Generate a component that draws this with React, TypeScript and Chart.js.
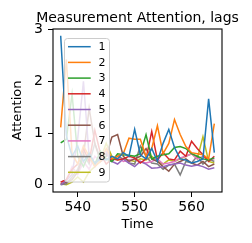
import { useEffect, useRef } from "react";
import { Chart, registerables } from "chart.js";

Chart.register(...registerables);

const times = [537, 538, 539, 540, 541, 542, 543, 544, 545, 546, 547, 548, 549, 550, 551, 552, 553, 554, 555, 556, 557, 558, 559, 560, 561, 562, 563, 564];
const lagLabels = ["1", "2", "3", "4", "5", "6", "7", "8", "9"];
const lag1 = [2.88, 0.95, 0.55, 0.75, 0.45, 0.6, 0.42, 0.5, 0.48, 0.55, 0.5, 0.62, 0.55, 1.07, 0.58, 0.5, 0.7, 0.45, 0.8, 1.07, 0.72, 0.5, 0.48, 0.42, 0.45, 0.5, 1.66, 0.62];
const lag2 = [1.11, 2.42, 0.6, 0.4, 0.75, 0.55, 0.35, 0.45, 0.7, 0.5, 0.55, 0.6, 0.9, 0.88, 0.88, 0.55, 0.7, 1.14, 0.6, 0.8, 1.26, 0.97, 0.74, 0.62, 0.6, 0.58, 0.5, 1.18];
const lag3 = [0.81, 0.88, 1.75, 0.55, 0.35, 0.6, 0.4, 0.65, 0.5, 0.45, 0.6, 0.58, 0.57, 0.55, 0.6, 0.97, 0.5, 0.55, 0.58, 0.6, 0.72, 0.74, 0.7, 0.6, 0.55, 0.5, 0.48, 0.52];
const lag4 = [0.05, 0.1, 0.3, 0.4, 0.7, 0.45, 1.05, 0.6, 0.4, 0.5, 0.48, 0.5, 0.55, 0.52, 0.42, 0.5, 1.03, 0.48, 0.62, 0.5, 0.48, 0.65, 0.55, 0.84, 0.7, 0.58, 0.45, 0.55];
const lag5 = [0.0, 0.08, 0.2, 0.9, 2.0, 0.55, 0.35, 0.6, 0.65, 0.45, 0.4, 0.5, 0.42, 0.35, 0.45, 0.4, 0.32, 0.33, 0.35, 0.38, 0.4, 0.42, 0.38, 0.36, 0.38, 0.35, 0.3, 0.33];
const lag6 = [0.02, 0.05, 0.1, 0.25, 0.55, 1.48, 0.8, 0.45, 0.55, 0.92, 0.97, 0.55, 0.45, 0.5, 0.55, 0.7, 0.5, 0.45, 0.35, 0.26, 0.4, 0.45, 0.5, 0.42, 0.38, 0.45, 0.35, 0.4];
const lag7 = [0.05, 0.1, 0.35, 0.2, 0.45, 0.3, 0.55, 0.45, 0.5, 0.5, 0.55, 0.45, 0.48, 0.5, 0.45, 0.42, 0.45, 0.5, 0.4, 0.42, 0.45, 0.52, 0.55, 0.6, 0.5, 0.55, 0.48, 0.5];
const lag8 = [0.0, 0.02, 0.15, 0.3, 0.6, 0.4, 0.8, 0.5, 0.6, 0.45, 0.55, 0.5, 0.42, 0.4, 0.75, 0.55, 0.42, 0.4, 0.3, 0.38, 0.4, 0.19, 0.45, 0.42, 0.55, 0.4, 0.5, 0.45];
const lag9 = [0.02, 0.0, 0.05, 0.15, 0.05, 0.25, 0.35, 0.5, 0.8, 0.55, 0.48, 0.5, 0.48, 0.45, 0.5, 0.48, 0.55, 0.45, 0.4, 0.48, 0.45, 0.5, 0.55, 0.6, 0.5, 0.93, 0.45, 0.42];
const series = [lag1, lag2, lag3, lag4, lag5, lag6, lag7, lag8, lag9];
const colors = ["#1f77b4", "#ff7f0e", "#2ca02c", "#d62728", "#9467bd", "#8c564b", "#e377c2", "#7f7f7f", "#bcbd22"];
const xTicks = [540, 550, 560];
const yTicks = [0, 1, 2, 3];
const titleText = "Measurement Attention, lags";
const xLabel = "Time";
const yLabel = "Attention";

const FONT = "'DejaVu Sans', sans-serif";

const decor = {
  id: "decor",
  afterDatasetsDraw(chart: any) {
    const { ctx, chartArea: a } = chart;
    ctx.save();
    // legend
    const lx = 64.5, ly = 38.5, lw = 45, lh = 143.5, r = 3;
    ctx.beginPath();
    ctx.moveTo(lx + r, ly);
    ctx.lineTo(lx + lw - r, ly);
    ctx.quadraticCurveTo(lx + lw, ly, lx + lw, ly + r);
    ctx.lineTo(lx + lw, ly + lh - r);
    ctx.quadraticCurveTo(lx + lw, ly + lh, lx + lw - r, ly + lh);
    ctx.lineTo(lx + r, ly + lh);
    ctx.quadraticCurveTo(lx, ly + lh, lx, ly + lh - r);
    ctx.lineTo(lx, ly + r);
    ctx.quadraticCurveTo(lx, ly, lx + r, ly);
    ctx.closePath();
    ctx.fillStyle = "rgba(255,255,255,0.8)";
    ctx.fill();
    ctx.strokeStyle = "#cccccc";
    ctx.lineWidth = 1;
    ctx.stroke();
    ctx.font = `11px ${FONT}`;
    ctx.textBaseline = "middle";
    ctx.textAlign = "left";
    lagLabels.forEach((lab, i) => {
      const y = 46.7 + i * 15.7;
      ctx.strokeStyle = colors[i];
      ctx.lineWidth = 1.5;
      ctx.beginPath();
      ctx.moveTo(68, y);
      ctx.lineTo(90.7, y);
      ctx.stroke();
      ctx.fillStyle = "#000";
      ctx.fillText(lab, 98.5, y + 0.5);
    });
    // spines
    ctx.strokeStyle = "#000";
    ctx.lineWidth = 1.1;
    ctx.strokeRect(a.left, a.top, a.right - a.left, a.bottom - a.top);
    // title
    ctx.fillStyle = "#000";
    ctx.textAlign = "center";
    ctx.textBaseline = "alphabetic";
    ctx.font = `14px ${FONT}`;
    ctx.fillText(titleText, (a.left + a.right) / 2, 21.5);
    ctx.font = `13px ${FONT}`;
    ctx.fillText(xLabel, (a.left + a.right) / 2, 228);
    ctx.translate(21, (a.top + a.bottom) / 2);
    ctx.rotate(-Math.PI / 2);
    ctx.fillText(yLabel, 0, 0);
    ctx.restore();
  },
};

export default function App() {
  const ref = useRef<HTMLCanvasElement>(null);
  useEffect(() => {
    document.body.style.margin = "0";
    const chart = new Chart(ref.current as HTMLCanvasElement, {
      type: "line",
      data: {
        datasets: series.map((vals, i) => ({
          label: lagLabels[i],
          data: vals.map((v, j) => ({ x: times[j], y: v })),
          borderColor: colors[i],
          backgroundColor: colors[i],
          borderWidth: 1.5,
          pointRadius: 0,
          tension: 0,
          fill: false,
        })),
      },
      options: {
        responsive: false,
        animation: false,
        devicePixelRatio: 1,
        layout: { padding: { left: 0, right: 30, top: 29, bottom: 0 } },
        plugins: {
          legend: { display: false },
          tooltip: { enabled: false },
          title: { display: false },
        },
        scales: {
          x: {
            type: "linear",
            min: 535.65,
            max: 565.35,
            afterBuildTicks: (s: any) => {
              s.ticks = xTicks.map((v) => ({ value: v }));
            },
            afterFit: (s: any) => {
              s.height = 51;
            },
            ticks: {
              color: "#000",
              font: { family: FONT, size: 14 },
              padding: 1.5,
              maxRotation: 0,
              callback: (v: any) => String(v),
            },
            grid: { drawOnChartArea: false, drawTicks: true, tickLength: 5, color: "#000", lineWidth: 1 },
            border: { display: false },
          },
          y: {
            type: "linear",
            min: -0.14,
            max: 3.01,
            afterBuildTicks: (s: any) => {
              s.ticks = yTicks.map((v) => ({ value: v }));
            },
            afterFit: (s: any) => {
              s.width = 53;
            },
            ticks: {
              color: "#000",
              font: { family: FONT, size: 14 },
              padding: 5,
              callback: (v: any) => String(v),
            },
            grid: { drawOnChartArea: false, drawTicks: true, tickLength: 5, color: "#000", lineWidth: 1 },
            border: { display: false },
          },
        },
      },
      plugins: [decor],
    });
    return () => chart.destroy();
  }, []);
  return (
    <div style={{ width: 252, height: 243 }}>
      <canvas ref={ref} width={252} height={243} style={{ display: "block" }} />
    </div>
  );
}
